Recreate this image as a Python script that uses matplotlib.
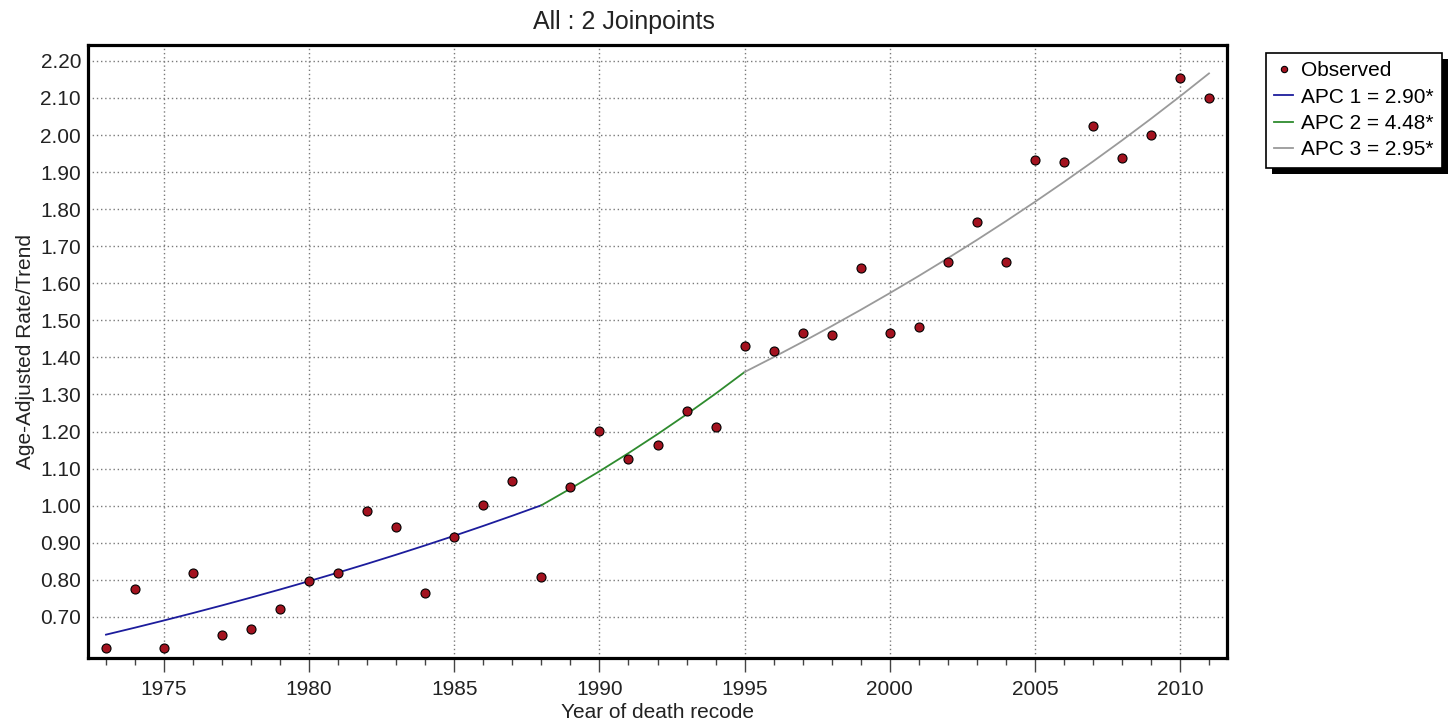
import matplotlib
matplotlib.use('Agg')
import matplotlib.pyplot as plt
import numpy as np
from matplotlib.ticker import MultipleLocator, FormatStrFormatter
from matplotlib.patches import Rectangle

plt.rcParams['font.family'] = ['Liberation Sans', 'DejaVu Sans']

# observed age-adjusted rates
years = list(range(1973, 2012))
observed = [0.616, 0.775, 0.616, 0.819, 0.651, 0.668, 0.722, 0.797, 0.819, 0.986,
            0.943, 0.765, 0.916, 1.002, 1.067, 0.808, 1.051, 1.202, 1.126, 1.164,
            1.256, 1.213, 1.431, 1.418, 1.466, 1.461, 1.641, 1.466, 1.482, 1.658,
            1.766, 1.658, 1.933, 1.927, 2.025, 1.938, 2.000, 2.154, 2.100]

# joinpoint model: segment boundaries and annual percent change per segment
joinpoints = [1973, 1988, 1995, 2011]
apc = [2.90, 4.48, 2.95]
apc_labels = ['APC 1 = 2.90*', 'APC 2 = 4.48*', 'APC 3 = 2.95*']
trend_start = 0.652
seg_colors = ['#1c1c9c', '#2e8b2e', '#9a9a9a']

fig = plt.figure(figsize=(14.56, 7.28), dpi=100)
ax = fig.add_axes([88/1456, 70/728, (1227-88)/1456, (658-45)/728])

ax.plot(years, observed, 'o', ms=6.5, mfc='#a3121f', mec='black', mew=0.8,
        label='Observed', zorder=5)

# piecewise log-linear fitted trend
level = trend_start
for i in range(len(apc)):
    yrs = np.arange(joinpoints[i], joinpoints[i+1] + 1)
    vals = level * (1 + apc[i]/100.0) ** (yrs - joinpoints[i])
    ax.plot(yrs, vals, color=seg_colors[i], lw=1.3, label=apc_labels[i], zorder=4)
    level = vals[-1]

ax.set_xlim(1972.38, 2011.62)
ax.set_ylim(0.589, 2.243)
ax.xaxis.set_major_locator(MultipleLocator(5))
ax.xaxis.set_minor_locator(MultipleLocator(1))
ax.yaxis.set_major_formatter(FormatStrFormatter('%.2f'))
ax.set_yticks(np.arange(0.7, 2.21, 0.1))

ax.grid(True, which='major', color='#7a7a7a', linestyle=(0, (1, 2)), lw=1)
for sp in ax.spines.values():
    sp.set_linewidth(2.3)
    sp.set_color('black')

ax.tick_params(axis='x', which='major', length=10, width=1, color='#444444',
               labelsize=15, pad=6, labelcolor='#222222')
ax.tick_params(axis='x', which='minor', length=5, width=1, color='#444444')
ax.tick_params(axis='y', length=0, pad=5, labelsize=15, labelcolor='#222222')

ax.set_xlabel('Year of death recode', fontsize=15, color='#222222', labelpad=3)
ax.set_ylabel('Age-Adjusted Rate/Trend', fontsize=15, color='#222222', labelpad=4)
fig.text(624/1456, 1 - 22/728, 'All : 2 Joinpoints', fontsize=18, ha='center',
         va='center', color='#222222')

handles, labels = ax.get_legend_handles_labels()
leg = fig.legend(handles, labels, loc='upper left',
                 bbox_to_anchor=(1266/1456, 1 - 53/728), fontsize=15,
                 frameon=True, fancybox=False, edgecolor='black', framealpha=1,
                 handlelength=0.9, handletextpad=0.4, labelspacing=0.35,
                 borderpad=0.4, borderaxespad=0, markerscale=0.7)
leg.get_frame().set_linewidth(1.2)
leg.set_zorder(10)

# solid drop shadow behind the legend box
fig.canvas.draw()
bb = leg.get_frame().get_window_extent()
inv = fig.transFigure.inverted()
(x0, y0), (x1, y1) = inv.transform([[bb.x0 + 6, bb.y0 - 6], [bb.x1 + 6, bb.y1 - 6]])
fig.patches.append(Rectangle((x0, y0), x1 - x0, y1 - y0, transform=fig.transFigure,
                             facecolor='black', edgecolor='none', zorder=9))

fig.savefig('out.png', dpi=100)
